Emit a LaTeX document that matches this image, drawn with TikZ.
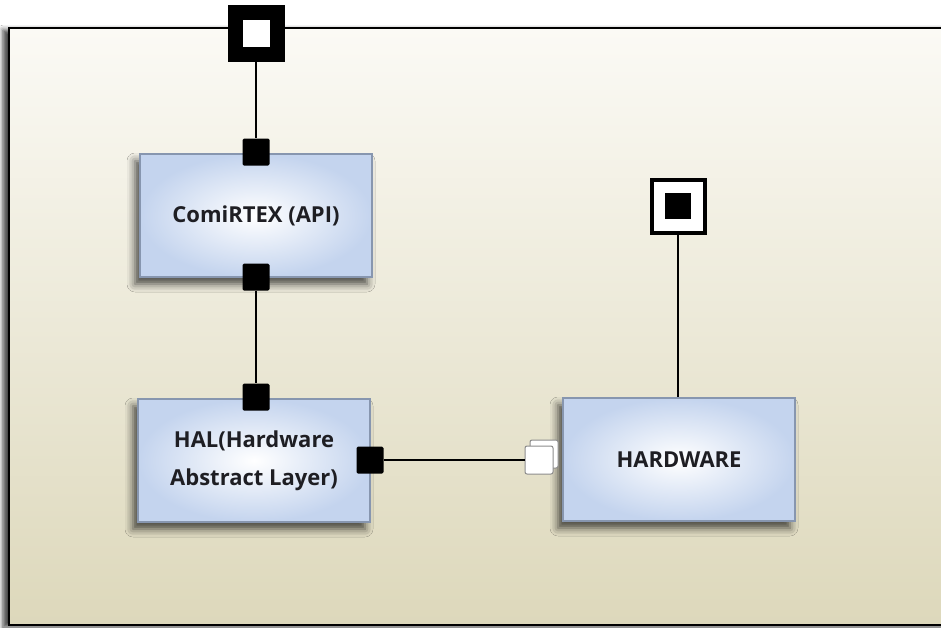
\documentclass[tikz,border=0pt]{standalone}
\usepackage{fontspec}
\setmainfont{Open Sans}
\usetikzlibrary{shadows.blur}
\definecolor{paneltop}{RGB}{251,250,245}
\definecolor{panelbot}{RGB}{221,216,187}
\definecolor{boxblue}{RGB}{196,212,238}
\definecolor{boxline}{RGB}{135,150,175}
\definecolor{portgray}{RGB}{140,140,140}
\definecolor{labelink}{RGB}{30,30,35}
\tikzset{
  module/.style={rectangle,draw=boxline,line width=1.2pt,inner color=white,outer color=boxblue,
    minimum width=232pt,minimum height=123pt,align=center,text=labelink,
    font=\fontsize{22}{38}\selectfont\bfseries,
    blur shadow={shadow xshift=-5pt,shadow yshift=-7pt,shadow blur radius=8pt,shadow opacity=70}},
  pin/.style={rectangle,fill=black,minimum size=27pt,inner sep=0pt,rounded corners=1.5pt},
  ghost/.style={rectangle,draw=portgray,fill=white,line width=1pt,minimum size=28pt,inner sep=0pt,rounded corners=2pt},
  wire/.style={line width=2pt}
}
\begin{document}
\begin{tikzpicture}[x=1pt,y=-1pt]
    \clip (0,0) rectangle (941,627);
    \fill[white] (0,0) rectangle (941,627);
    % outer panel
    \path[top color=paneltop,bottom color=panelbot,draw=black,line width=2.2pt,
      blur shadow={shadow xshift=-6pt,shadow yshift=-2pt,shadow blur radius=5pt,shadow opacity=75}]
      (9,28) rectangle (970,625);
    % modules
    \node[module] (api) at (256,215.5) {ComiRTEX (API)};
    \node[module] (hal) at (254,460.5) {HAL(Hardware\\Abstract Layer)};
    \node[module] (hw) at (679,459.5) {HARDWARE};
    % ports
    \node[rectangle,draw=black,fill=white,line width=15pt,minimum size=42pt,inner sep=0pt] (extTop) at (256,33.5) {};
    \node[rectangle,draw=black,fill=white,line width=4pt,minimum size=53pt,inner sep=0pt] (extHw) at (678,206.5) {};
    \node[rectangle,fill=black,minimum size=26pt,inner sep=0pt] (extHwCore) at (678,206) {};
    \node[pin] (apiIn) at (256,152) {};
    \node[pin] (apiOut) at (256,277) {};
    \node[pin] (halIn) at (256,397) {};
    \node[pin] (halOut) at (370,460) {};
    \node[ghost] (hwBack) at (544,454) {};
    \node[ghost] (hwIn) at (539,460) {};
    % connectors
    \draw[wire] (extTop) -- (apiIn);
    \draw[wire] (apiOut) -- (halIn);
    \draw[wire] (halOut) -- (hwIn);
    \draw[wire] (extHw.south) -- (extHw.south |- hw.north);
\end{tikzpicture}
\end{document}
